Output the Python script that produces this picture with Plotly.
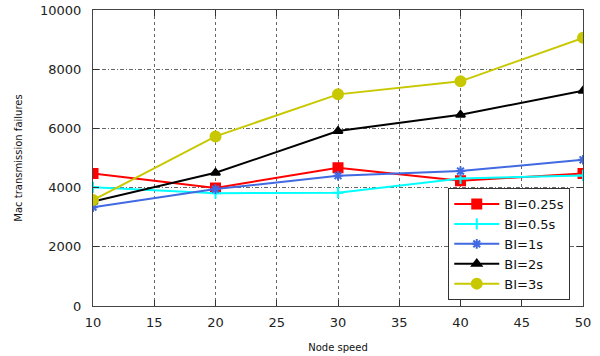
import plotly.graph_objects as go

speeds = [10, 20, 30, 40, 50]
bi_025 = [4480, 3990, 4670, 4230, 4480]
bi_05 = [4010, 3810, 3830, 4310, 4410]
bi_1 = [3340, 3950, 4400, 4560, 4940]
bi_2 = [3530, 4500, 5910, 6460, 7270]
bi_3 = [3580, 5730, 7150, 7590, 9060]
x_ticks = [10, 15, 20, 25, 30, 35, 40, 45, 50]
y_ticks = [0, 2000, 4000, 6000, 8000, 10000]

names = ["BI=0.25s", "BI=0.5s", "BI=1s", "BI=2s", "BI=3s"]
colors = ["#ff0000", "#00ffff", "#4169e1", "#000000", "#c8c800"]
symbols = ["square", "cross-thin-open", "asterisk-open", "triangle-up", "circle"]
sizes = [9, 8, 8, 8, 10]
series = [bi_025, bi_05, bi_1, bi_2, bi_3]

fig = go.Figure()
for n, c, s, sz, ys in zip(names, colors, symbols, sizes, series):
    fig.add_trace(go.Scatter(
        x=speeds, y=ys, name=n, mode="lines+markers",
        line=dict(color=c, width=2),
        marker=dict(symbol=s, size=sz, color=c, line=dict(color=c, width=2)),
    ))

axis_font = dict(family="DejaVu Sans", size=13, color="#222222")
fig.update_layout(
    width=600, height=356,
    margin=dict(l=93, r=17, t=10, b=50),
    paper_bgcolor="white", plot_bgcolor="white",
    font=dict(family="DejaVu Sans", color="#111111"),
    showlegend=True,
    legend=dict(
        x=0.974, y=0.02, xanchor="right", yanchor="bottom",
        bordercolor="#333333", borderwidth=1, bgcolor="white",
        font=dict(family="DejaVu Sans", size=13, color="#111111"),
        tracegroupgap=0, itemwidth=45,
    ),
    xaxis=dict(
        range=[10, 50], tickvals=x_ticks, ticktext=[str(v) for v in x_ticks],
        ticks="inside", ticklen=6, tickcolor="#333333",
        showline=True, linecolor="#444444", linewidth=1, mirror="allticks",
        showgrid=True, gridcolor="#666666", gridwidth=1, griddash="dot",
        zeroline=False, tickfont=axis_font, automargin=False,
        ticklabelstandoff=4,
        title=dict(text="Node speed", font=dict(family="DejaVu Sans", size=10, color="#111111"), standoff=15),
    ),
    yaxis=dict(
        range=[0, 10000], tickvals=y_ticks, ticktext=[str(v) for v in y_ticks],
        ticks="inside", ticklen=6, tickcolor="#333333",
        showline=True, linecolor="#444444", linewidth=1, mirror="allticks",
        showgrid=True, gridcolor="#666666", gridwidth=1, griddash="4px,2px,1px,2px",
        zeroline=False, tickfont=axis_font, automargin=False,
        ticklabelstandoff=8,
        title=dict(text="Mac transmission failures", font=dict(family="DejaVu Sans", size=10, color="#111111"), standoff=15),
    ),
)

fig.write_html("out.html", config={"displayModeBar": False},
               post_script="document.body.style.margin='0';document.body.style.overflow='hidden';")
